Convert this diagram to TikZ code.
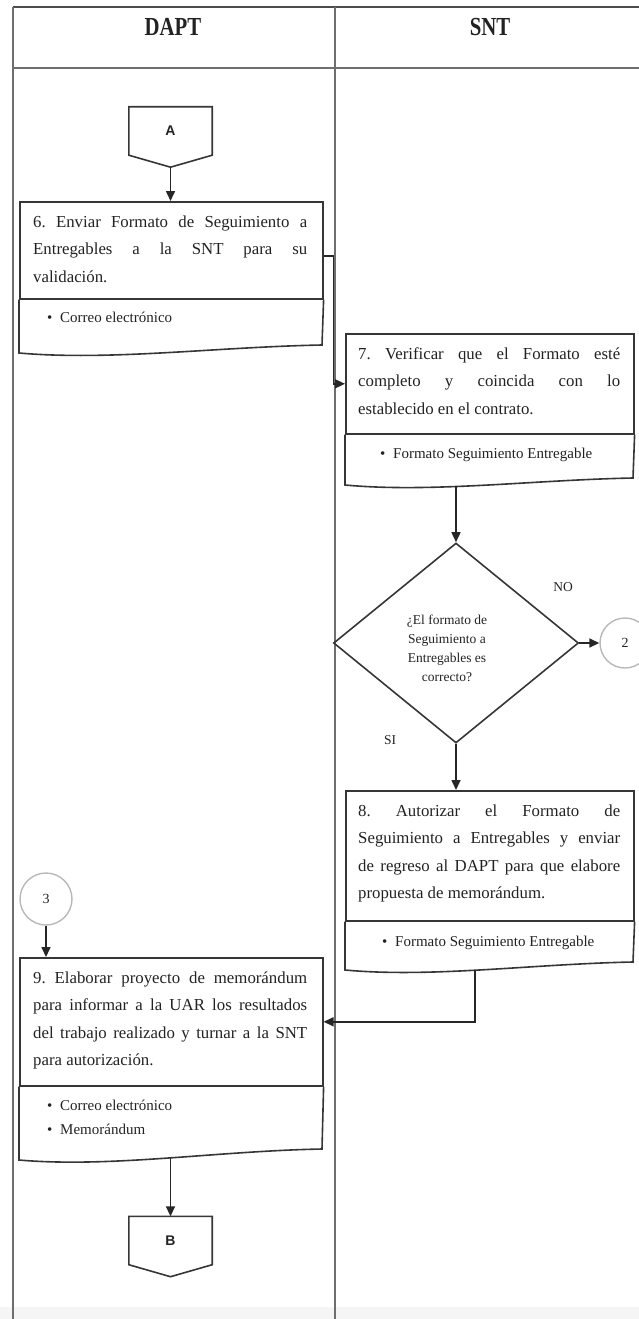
\documentclass[tikz,border=0pt]{standalone}
\usepackage{fontspec}
\setmainfont{Liberation Serif}
\setsansfont{Liberation Sans}
\usetikzlibrary{arrows.meta,shapes.geometric,calc}
\frenchspacing

\definecolor{lineclr}{HTML}{363636}
\definecolor{gridclr}{HTML}{6E6E6E}
\definecolor{ringclr}{HTML}{B8B8B8}
\definecolor{inkclr}{HTML}{222222}

\tikzset{
  boxline/.style={draw=lineclr, line width=1.6pt},
  stepbox/.style={rectangle, draw=lineclr, line width=1.6pt, inner sep=0pt, anchor=north west},
  flow/.style={draw=black!85, line width=1.6pt, -{Triangle[length=10pt,width=9pt]}},
  gridline/.style={draw=gridclr, line width=1.3pt},
  ring/.style={circle, draw=ringclr, line width=1.4pt, inner sep=0pt, text=inkclr,
    font=\fontsize{14}{14}\selectfont},
  body/.style={anchor=base west, inner sep=0pt, text=inkclr},
  tag/.style={inner sep=0pt, text=inkclr, font=\fontsize{13.5}{13.5}\selectfont},
  offpage/.style={rectangle, inner sep=0pt, minimum width=83pt, minimum height=48pt,
    text=inkclr, font=\sffamily\bfseries\fontsize{14}{14}\selectfont},
  lane/.style={inner sep=0pt, text=inkclr},
}

% lower part of a document box: side walls plus a wavy bottom edge;
% #1 box, #2/#3 left/right x, #4/#5 bottom y at left/right, #6 point on wave, #7 its position
\newcommand\docbottom[7]{%
  \draw[boxline] (#1.south west) -- (#2,#4)
    .. controls ({#2+0.3*(#3-#2)},{#4+8}) and ({#2+0.65*(#3-#2)},{#5+2}) .. (#3,#5)
    coordinate[pos=#7] (#6) -- (#1.south east);}

\newcommand\fullline[1]{\makebox[\linewidth][s]{#1}\par}

\begin{document}
\begin{tikzpicture}[x=1pt,y=-1pt]
\useasboundingbox (0,0) rectangle (639,1319);

% swimlane table
\fill[black!4] (0,1307) rectangle (639,1319);
\draw[gridline, draw=black!70, line width=1.7pt] (13,7) -- (639,7);
\draw[gridline] (13,68) -- (639,68);
\draw[gridline] (13,7) -- (13,1319);
\draw[gridline] (335,7) -- (335,1319);
\node[lane] (hdapt) at (173,27) {\scalebox{0.8}[1]{\fontsize{26}{26}\selectfont\bfseries DAPT}};
\node[lane] (hsnt) at (490,27) {\scalebox{0.8}[1]{\fontsize{26}{26}\selectfont\bfseries SNT}};

% off-page connector A
\node[offpage] (A) at (170.5,131) {A};
\draw[boxline] (A.north west) -- (A.north east) -- (A.south east)
  -- ([yshift=-12pt]A.south) -- (A.south west) -- cycle;
\coordinate (Atip) at ([yshift=-12pt]A.south);

% step 6
\node[stepbox, minimum width=303pt, minimum height=97pt] (b6) at (19,201) {};
\docbottom{b6}{19}{322}{353}{345}{w6}{0.5}
\node[body] (t6) at (33,227) {\parbox[t]{274pt}{\fontsize{16.8}{27.5}\selectfont
  \fullline{6. Enviar Formato de Seguimiento a}
  \fullline{Entregables a la SNT para su}
  validación.}};
\node[body] (r6) at (47,322.5) {\fontsize{15}{24}\selectfont\makebox[13pt][l]{\textbullet}Correo electrónico};

% step 7
\node[stepbox, minimum width=288pt, minimum height=100pt] (b7) at (345,333) {};
\docbottom{b7}{345}{633}{485}{478}{w7}{0.41}
\node[body] (t7) at (358,359) {\parbox[t]{262pt}{\fontsize{16.8}{27.5}\selectfont
  \fullline{7. Verificar que el Formato esté}
  \fullline{completo y coincida con lo}
  establecido en el contrato.}};
\node[body] (r7) at (380,458.5) {\fontsize{15}{24}\selectfont\makebox[13pt][l]{\textbullet}Formato Seguimiento Entregable};

% decision
\node[diamond, draw=lineclr, line width=1.6pt, minimum width=245pt, minimum height=200pt,
  inner sep=0pt] (dia) at (456,643) {};
\node[lane, align=center, font=\fontsize{13.5}{19}\selectfont] (q) at (447,648)
  {¿El formato de\\Seguimiento a\\Entregables es\\correcto?};
\node[tag] (lno) at (563,587) {NO};
\node[tag] (lsi) at (390,740) {SI};
\node[ring, minimum size=50pt] (c2) at (625,643) {2};

% step 8
\node[stepbox, minimum width=288pt, minimum height=130pt] (b8) at (345,790) {};
\docbottom{b8}{345}{633}{970}{962}{w8}{0.47}
\node[body] (t8) at (358,816) {\parbox[t]{262pt}{\fontsize{16.8}{27.5}\selectfont
  \fullline{8. Autorizar el Formato de}
  \fullline{Seguimiento a Entregables y enviar}
  \fullline{de regreso al DAPT para que elabore}
  propuesta de memorándum.}};
\node[body] (r8) at (382,946.5) {\fontsize{15}{24}\selectfont\makebox[13pt][l]{\textbullet}Formato Seguimiento Entregable};

% step 9
\node[ring, minimum size=52pt] (c3) at (46,899) {3};
\node[stepbox, minimum width=303pt, minimum height=128pt] (b9) at (19,957) {};
\docbottom{b9}{19}{322}{1160}{1149}{w9}{0.52}
\node[body] (t9) at (33,983) {\parbox[t]{274pt}{\fontsize{16.8}{27.5}\selectfont
  \fullline{9. Elaborar proyecto de memorándum}
  \fullline{para informar a la UAR los resultados}
  \fullline{del trabajo realizado y turnar a la SNT}
  para autorización.}};
\node[body] (r9) at (47,1110.5) {\parbox[t]{200pt}{\fontsize{15}{24}\selectfont
  \makebox[13pt][l]{\textbullet}Correo electrónico\par
  \makebox[13pt][l]{\textbullet}Memorándum}};

% off-page connector B
\node[offpage] (B) at (170.5,1240.5) {B};
\draw[boxline] (B.north west) -- (B.north east) -- (B.south east)
  -- ([yshift=-12pt]B.south) -- (B.south west) -- cycle;

% flow connectors
\draw[flow] (Atip) -- (Atip |- b6.north);
\coordinate (o6) at ($(b6.north east)!0.56!(b6.south east)$);
\draw[flow] (o6) -- ++(10,0) |- (b7.west);
\draw[flow] (dia.north |- w7) -- (dia.north);
\draw[flow] (dia.east) -- (c2);
\draw[flow] (dia.south) -- (dia.south |- b8.north);
\draw[flow] (w8) |- (b9.east);
\draw[flow] (c3) -- (c3 |- b9.north);
\draw[flow] (B.north |- w9) -- (B.north);
\end{tikzpicture}
\end{document}
